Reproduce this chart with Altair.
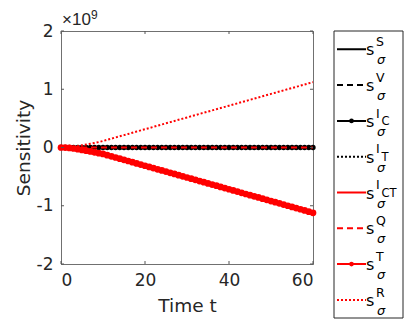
import altair as alt
import pandas as pd

# ---- data (values in units of 1e9) ----
t = list(range(61))
T_vals = [0.0, -0.002, -0.008, -0.017, -0.028, -0.041, -0.054, -0.068, -0.082, -0.097,
          -0.111, -0.131, -0.151, -0.172, -0.192, -0.212, -0.232, -0.252, -0.273, -0.293,
          -0.313, -0.333, -0.353, -0.374, -0.394, -0.414, -0.434, -0.454, -0.475, -0.495,
          -0.515, -0.535, -0.555, -0.576, -0.596, -0.616, -0.636, -0.656, -0.677, -0.697,
          -0.717, -0.737, -0.757, -0.778, -0.798, -0.818, -0.838, -0.858, -0.879, -0.899,
          -0.919, -0.939, -0.959, -0.980, -1.000, -1.020, -1.040, -1.060, -1.081, -1.101,
          -1.121]
R_vals = [0.0, 0.002, 0.007, 0.015, 0.025, 0.037, 0.050, 0.064, 0.078, 0.093,
          0.112, 0.132, 0.152, 0.173, 0.193, 0.213, 0.233, 0.253, 0.274, 0.294,
          0.314, 0.334, 0.354, 0.375, 0.395, 0.415, 0.435, 0.455, 0.476, 0.496,
          0.516, 0.536, 0.556, 0.577, 0.597, 0.617, 0.637, 0.657, 0.678, 0.698,
          0.718, 0.738, 0.758, 0.779, 0.799, 0.819, 0.839, 0.859, 0.880, 0.900,
          0.920, 0.940, 0.960, 0.981, 1.001, 1.021, 1.041, 1.061, 1.082, 1.102,
          1.122]
zero = [0.0] * 61

names = ["S", "V", "I_C", "I_T", "I_CT", "Q", "T", "R"]
sup = ["S", "V", "I", "I", "I", "Q", "T", "R"]
supsub = ["", "", "C", "T", "CT", "", "", ""]
colors = ["#000000", "#000000", "#000000", "#000000", "#ff0000", "#ff0000", "#ff0000", "#ff0000"]
dashes = [[1, 0], [6, 4], [1, 0], [2, 2], [1, 0], [6, 4], [1, 0], [2, 2]]
with_markers = ["I_C", "T"]
series_vals = {"S": zero, "V": zero, "I_C": zero, "I_T": zero,
               "I_CT": zero, "Q": zero, "T": T_vals, "R": R_vals}
draw_order = ["I_CT", "S", "V", "I_C", "I_T", "Q", "T", "R"]

xticks = [0, 20, 40, 60]
yticks = [-2, -1, 0, 1, 2]

df = pd.DataFrame([{"t": ti, "value": v, "series": k}
                   for k in names for ti, v in zip(t, series_vals[k])])
leg = pd.DataFrame({"series": names, "idx": list(range(len(names))),
                    "sup": sup, "supsub": supsub})

W, H = 252, 233
FONT = "DejaVu Sans"
FONT2 = "Liberation Sans"

color_scale = alt.Scale(domain=names, range=colors)
dash_scale = alt.Scale(domain=names, range=dashes)
X = alt.X("t:Q", scale=alt.Scale(domain=[0, 60], nice=False),
          axis=alt.Axis(values=xticks, title="Time t", grid=False, ticks=False,
                        labelPadding=8, titlePadding=8))
Y = alt.Y("value:Q", scale=alt.Scale(domain=[-2, 2], nice=False),
          axis=alt.Axis(values=yticks, title="Sensitivity", grid=False, ticks=False,
                        labelPadding=8, titlePadding=3, labelExpr="'' + datum.value"))
C = alt.Color("series:N", scale=color_scale, legend=None)
D = alt.StrokeDash("series:N", scale=dash_scale, legend=None)

main_layers = []
for name in draw_order:
    base = alt.Chart(df).transform_filter(alt.datum.series == name)
    main_layers.append(base.mark_line(strokeWidth=2).encode(x=X, y=Y, color=C, strokeDash=D))
    if name in with_markers:
        size = 28 if name == "I_C" else 45
        main_layers.append(base.mark_circle(size=size, opacity=1).encode(x=X, y=Y, color=C))

# inward tick marks (box style)
xt = pd.DataFrame({"t": xticks})
yt = pd.DataFrame({"value": yticks})
tick_col = "#555555"
main_layers += [
    alt.Chart(xt).mark_rule(color=tick_col).encode(x=X, y=alt.value(H), y2=alt.value(H - 3)),
    alt.Chart(xt).mark_rule(color=tick_col).encode(x=X, y=alt.value(0), y2=alt.value(3)),
    alt.Chart(yt).mark_rule(color=tick_col).encode(y=Y, x=alt.value(0), x2=alt.value(3)),
    alt.Chart(yt).mark_rule(color=tick_col).encode(y=Y, x=alt.value(W), x2=alt.value(W - 3)),
]

one = pd.DataFrame({"a": [0]})
main_layers += [
    alt.Chart(one).mark_text(text="×10", font=FONT2, fontSize=17, align="left",
                             baseline="alphabetic", color="#262626")
       .encode(x=alt.value(1), y=alt.value(-6)),
    alt.Chart(one).mark_text(text="9", font=FONT2, fontSize=12, align="left",
                             baseline="alphabetic", color="#262626")
       .encode(x=alt.value(30), y=alt.value(-12)),
]
main = alt.layer(*main_layers)

# ---- legend ----
LY = alt.Y("idx:Q", scale=alt.Scale(domain=[0, 7], range=[18.3, 268.9]), axis=None)
lbase = alt.Chart(leg)
legend_layers = [
    alt.Chart(one).mark_rect(fill="white", stroke="#262626", strokeWidth=1)
       .encode(x=alt.value(273), x2=alt.value(342), y=alt.value(0), y2=alt.value(287)),
    lbase.mark_rule(strokeWidth=2).encode(x=alt.value(276), x2=alt.value(305), y=LY,
                                          color=C, strokeDash=D),
    lbase.transform_filter(alt.FieldOneOfPredicate(field="series", oneOf=with_markers))
         .mark_circle(size=22, opacity=1).encode(x=alt.value(290.5), y=LY, color=C),
    lbase.mark_text(text="s", font=FONT, fontSize=16, align="left", baseline="alphabetic",
                    dy=6, color="#000000").encode(x=alt.value(305), y=LY),
    lbase.mark_text(font=FONT, fontSize=12.5, align="left", baseline="alphabetic",
                    dy=-3.3, color="#000000").encode(x=alt.value(315), y=LY, text="sup:N"),
    lbase.mark_text(font=FONT, fontSize=11.5, align="left", baseline="alphabetic",
                    dy=4.5, color="#000000").encode(x=alt.value(320.5), y=LY, text="supsub:N"),
    lbase.mark_text(text="σ", font=FONT, fontSize=13, fontStyle="italic", align="left",
                    baseline="alphabetic", dy=15, color="#000000").encode(x=alt.value(316), y=LY),
]
legend = alt.layer(*legend_layers)

chart = alt.layer(main, legend).resolve_scale(y="independent").properties(
    width=W, height=H,
    autosize=alt.AutoSizeParams(type="none"),
    padding={"left": 53, "top": 23, "right": 91, "bottom": 58},
).configure_view(stroke="#707070", strokeWidth=1).configure_axis(
    domainColor="#707070", labelFont=FONT, titleFont=FONT, labelFontSize=17,
    titleFontSize=18.5, labelColor="#262626", titleColor="#262626", titleFontWeight="normal",
)

chart.save("out.html", embed_options={"renderer": "svg", "actions": False})
